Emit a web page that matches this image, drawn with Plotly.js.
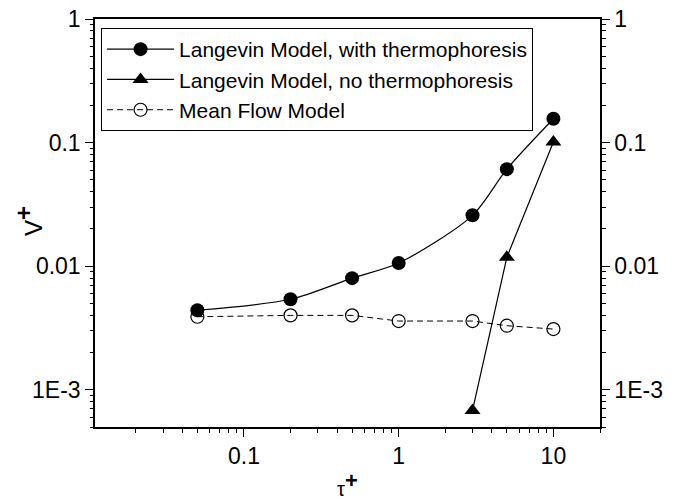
<!DOCTYPE html>
<html><head><meta charset="utf-8">
<script src="https://cdn.plot.ly/plotly-3.0.1.min.js"></script>
<style>body{margin:0}#c{width:675px;height:500px}</style>
</head><body><div id="c"></div>
<script>
const tau = [0.05, 0.2, 0.5, 1, 3, 5, 10];
const withThermo = [0.0044, 0.0054, 0.0080, 0.0106, 0.0258, 0.061, 0.156];
const tauNo = [3, 5, 10];
const noThermo = [0.00068, 0.0118, 0.101];
const meanFlow = [0.0039, 0.0040, 0.0040, 0.0036, 0.0036, 0.0033, 0.0031];
const yTickVals = [0.001, 0.01, 0.1, 1];
const yTickText = ['1E-3', '0.01', '0.1', '1'];
const xTickVals = [0.1, 1, 10];
const xTickText = ['0.1', '1', '10'];
const names = ['Langevin Model, with thermophoresis', 'Langevin Model, no thermophoresis', 'Mean Flow Model'];

function minors(decades) {
  const out = [];
  decades.forEach(d => { for (let k = 2; k <= 9; k++) out.push(+(k * d).toPrecision(3)); });
  return out;
}
const font = {family: 'Liberation Sans, Arial, sans-serif', color: '#000'};
const carrier = (xa, ya) => ({x: tau, y: withThermo, xaxis: xa, yaxis: ya, mode: 'markers',
  showlegend: false, hoverinfo: 'skip', marker: {opacity: 0}});
const traces = [
  {x: tau, y: withThermo, name: names[0], mode: 'lines+markers',
   line: {color: '#000', width: 1.2, shape: 'spline', smoothing: 0.8},
   marker: {symbol: 'circle', size: 14, color: '#000'}},
  {x: tauNo, y: noThermo, name: names[1], mode: 'lines+markers',
   line: {color: '#000', width: 1.2},
   marker: {symbol: 'triangle-up', size: 14, color: '#000'}},
  {x: tau, y: meanFlow, name: names[2], mode: 'lines+markers',
   line: {color: '#000', width: 1, dash: '6px,4px'},
   marker: {symbol: 'circle-open', size: 13, color: '#000', line: {width: 1.2, color: '#000'}}},
  // invisible carriers so the overlay axes (right side, minor ticks) are drawn
  carrier('x', 'y2'), carrier('x2', 'y3'), carrier('x', 'y4')
];
const xr = [Math.log10(0.0109), Math.log10(20)];
const yr = [Math.log10(5e-4), 0];
const axBase = {type: 'log', showgrid: false, zeroline: false, showline: true, automargin: false,
  linecolor: '#000', linewidth: 1.5, ticks: 'outside', ticklen: 8, tickwidth: 1.3, tickcolor: '#000',
  tickfont: Object.assign({size: 23}, font)};
const minorAx = {type: 'log', showgrid: false, zeroline: false, showline: false, automargin: false,
  ticks: 'outside', ticklen: 4.5, tickwidth: 1.3, tickcolor: '#000', showticklabels: false, tickmode: 'array'};
const layout = {
  width: 675, height: 500,
  margin: {l: 95, r: 75, t: 19, b: 73},
  paper_bgcolor: '#fff', plot_bgcolor: '#fff',
  showlegend: true,
  legend: {x: 0.012, y: 0.978, xanchor: 'left', yanchor: 'top', bordercolor: '#000', borderwidth: 1,
    bgcolor: '#fff', font: Object.assign({size: 21}, font), tracegroupgap: 0, itemwidth: 67},
  xaxis: Object.assign({}, axBase, {range: xr, tickvals: xTickVals, ticktext: xTickText, mirror: true,
    title: {text: 'τ<sup><span style="font-size:22px"><b>+</b></span></sup>', font: Object.assign({size: 20}, font), standoff: 22}}),
  xaxis2: Object.assign({}, minorAx, {range: xr, overlaying: 'x', side: 'bottom', anchor: 'y',
    tickvals: minors([0.01, 0.1, 1, 10])}),
  yaxis: Object.assign({}, axBase, {range: yr, tickvals: yTickVals, ticktext: yTickText}),
  yaxis2: Object.assign({}, axBase, {range: yr, tickvals: yTickVals, ticktext: yTickText,
    overlaying: 'y', side: 'right', anchor: 'x'}),
  yaxis3: Object.assign({}, minorAx, {range: yr, overlaying: 'y', side: 'left', anchor: 'x',
    tickvals: minors([0.0001, 0.001, 0.01, 0.1])}),
  yaxis4: Object.assign({}, minorAx, {range: yr, overlaying: 'y', side: 'right', anchor: 'x',
    tickvals: minors([0.0001, 0.001, 0.01, 0.1])}),
  annotations: [{text: 'V<sup><span style="font-size:24px"><b>+</b></span></sup>', xref: 'paper', yref: 'paper',
    x: (29 - 95) / 505, y: 0.505, xanchor: 'center', yanchor: 'middle', textangle: -90, showarrow: false,
    font: Object.assign({size: 24}, font)}]
};
Plotly.newPlot('c', traces, layout, {displayModeBar: false});
</script></body></html>
